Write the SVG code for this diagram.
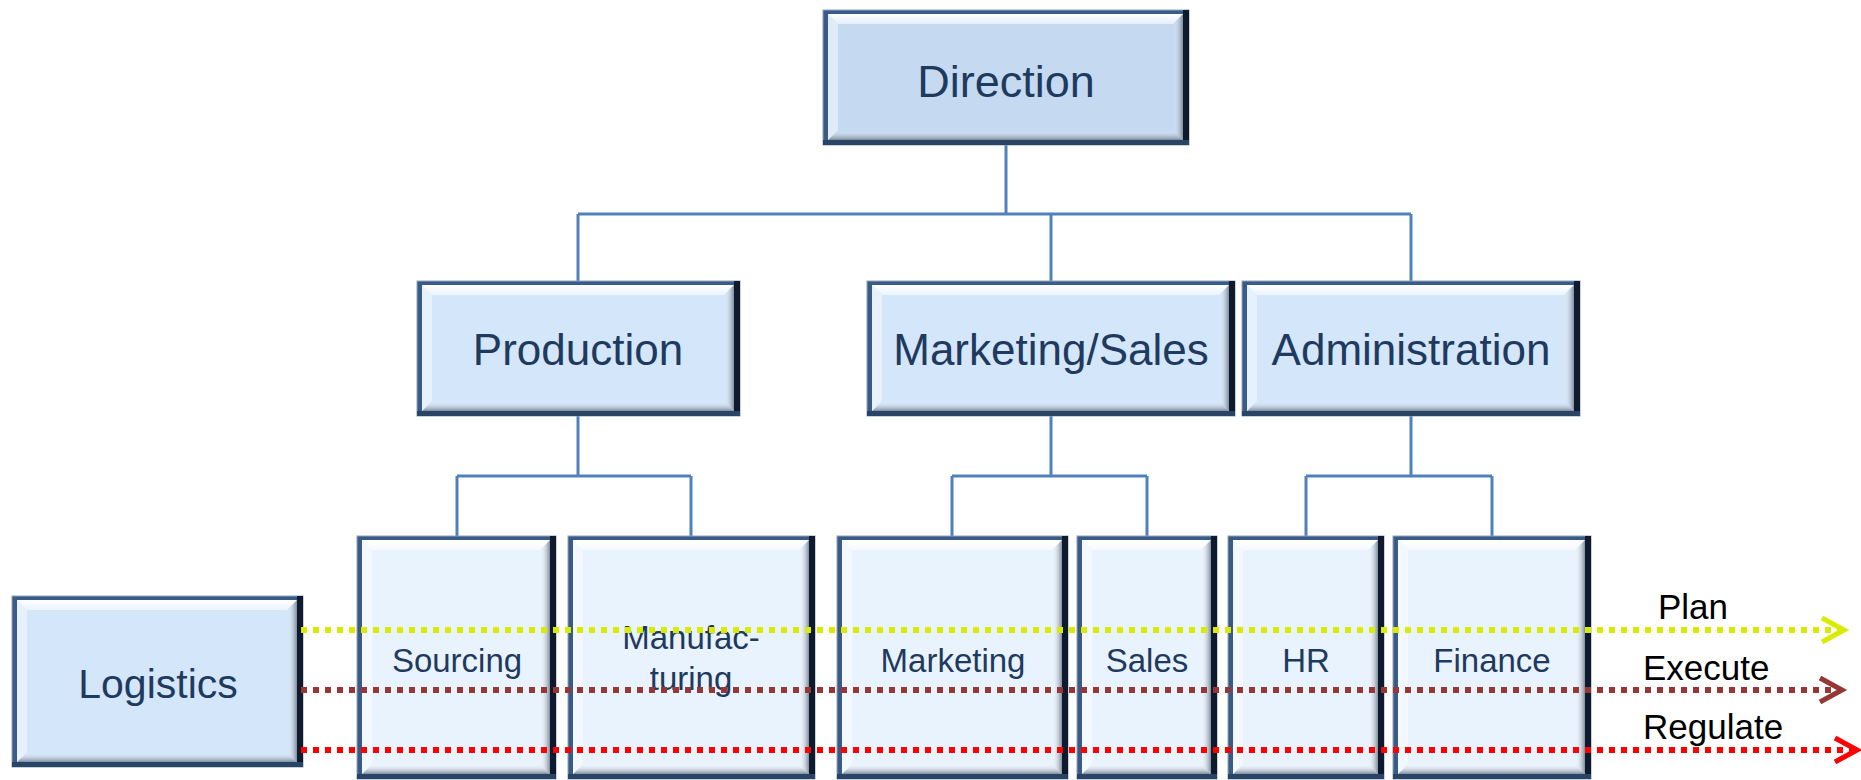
<svg xmlns="http://www.w3.org/2000/svg" width="1861" height="780" viewBox="0 0 1861 780">
<style>
.bd{fill:#3A5B85;stroke:#8FA3BC;stroke-width:1}
.rs{fill:#0F1B2C}
.bs{fill:#2A4465}
.f1{fill:#C5DAF1}
.f2{fill:#D4E6FA}
.f3{fill:#E9F3FD}
.bt{fill:url(#gTop)}
.br{fill:url(#gRight)}
.bb{fill:url(#gBot)}
.bl{fill:#FFFFFF;fill-opacity:0.45}
.t{font-family:"Liberation Sans",Arial,sans-serif;fill:#1F3A5F;text-anchor:middle}
.t1{font-size:45px}
.t2{font-size:44px}
.t3{font-size:33px}
.tl{font-family:"Liberation Sans",Arial,sans-serif;fill:#000000;font-size:35px}
.c{fill:none;stroke:#4F81BD;stroke-width:3}
.fl{fill:none;stroke-width:6;stroke-dasharray:6 6}
</style>
<defs>
<linearGradient id="gTop" x1="0" y1="0" x2="0" y2="1"><stop offset="0" stop-color="#FFFFFF" stop-opacity="1"/><stop offset="1" stop-color="#FFFFFF" stop-opacity="0.55"/></linearGradient>
<linearGradient id="gRight" x1="0" y1="0" x2="1" y2="0"><stop offset="0" stop-color="#FFFFFF" stop-opacity="0"/><stop offset="1" stop-color="#6E7B8E" stop-opacity="0.85"/></linearGradient>
<linearGradient id="gBot" x1="0" y1="0" x2="0" y2="1"><stop offset="0" stop-color="#FFFFFF" stop-opacity="0"/><stop offset="1" stop-color="#6E7B8E" stop-opacity="0.85"/></linearGradient>
<marker id="aPlan" markerUnits="userSpaceOnUse" viewBox="-26 -16 30 32" markerWidth="30" markerHeight="32" refX="0" refY="0" orient="auto" overflow="visible"><path d="M-22,-12 L0,0 L-22,12" fill="none" stroke="#D9EC00" stroke-width="5"/></marker>
<marker id="aExec" markerUnits="userSpaceOnUse" viewBox="-26 -16 30 32" markerWidth="30" markerHeight="32" refX="0" refY="0" orient="auto" overflow="visible"><path d="M-22,-12 L0,0 L-22,12" fill="none" stroke="#953735" stroke-width="5"/></marker>
<marker id="aReg" markerUnits="userSpaceOnUse" viewBox="-26 -16 30 32" markerWidth="30" markerHeight="32" refX="0" refY="0" orient="auto" overflow="visible"><path d="M-22,-12 L0,0 L-22,12" fill="none" stroke="#FF0000" stroke-width="5"/></marker>
</defs>
<rect x="0" y="0" width="1861" height="780" fill="#FFFFFF"/>

<g id="connectors">
<path class="c" d="M1006,145 V214 M578,214 H1411 M578,214 V281 M1051,214 V281 M1411,214 V281"/>
<path class="c" d="M578,416 V476 M457,476 H691 M457,476 V536 M691,476 V536"/>
<path class="c" d="M1051,416 V476 M952,476 H1147 M952,476 V536 M1147,476 V536"/>
<path class="c" d="M1411,416 V476 M1306,476 H1492 M1306,476 V536 M1492,476 V536"/>
</g>

<g id="direction">
<rect class="bd" x="823" y="10" width="366" height="135"/>
<rect class="rs" x="1183" y="10" width="6" height="135"/>
<rect class="bs" x="823" y="140" width="366" height="5"/>
<rect class="f1" x="828" y="14" width="355" height="126"/>
<polygon class="bt" points="828,14 1183,14 1173,24 838,24"/>
<polygon class="br" points="1173,24 1183,14 1183,140 1173,130"/>
<polygon class="bb" points="838,130 1173,130 1183,140 828,140"/>
<polygon class="bl" points="828,14 838,24 838,130 828,140"/>
<text class="t t1" x="1006" y="97">Direction</text>
</g>

<g id="production">
<rect class="bd" x="417" y="281" width="323" height="135"/>
<rect class="rs" x="734" y="281" width="6" height="135"/>
<rect class="bs" x="417" y="411" width="323" height="5"/>
<rect class="f2" x="422" y="285" width="312" height="126"/>
<polygon class="bt" points="422,285 734,285 724,295 432,295"/>
<polygon class="br" points="724,295 734,285 734,411 724,401"/>
<polygon class="bb" points="432,401 724,401 734,411 422,411"/>
<polygon class="bl" points="422,285 432,295 432,401 422,411"/>
<text class="t t2" x="578" y="365">Production</text>
</g>

<g id="marketing-sales">
<rect class="bd" x="867" y="281" width="368" height="135"/>
<rect class="rs" x="1229" y="281" width="6" height="135"/>
<rect class="bs" x="867" y="411" width="368" height="5"/>
<rect class="f2" x="872" y="285" width="357" height="126"/>
<polygon class="bt" points="872,285 1229,285 1219,295 882,295"/>
<polygon class="br" points="1219,295 1229,285 1229,411 1219,401"/>
<polygon class="bb" points="882,401 1219,401 1229,411 872,411"/>
<polygon class="bl" points="872,285 882,295 882,401 872,411"/>
<text class="t t2" x="1051" y="365">Marketing/Sales</text>
</g>

<g id="administration">
<rect class="bd" x="1242" y="281" width="338" height="135"/>
<rect class="rs" x="1574" y="281" width="6" height="135"/>
<rect class="bs" x="1242" y="411" width="338" height="5"/>
<rect class="f2" x="1247" y="285" width="327" height="126"/>
<polygon class="bt" points="1247,285 1574,285 1564,295 1257,295"/>
<polygon class="br" points="1564,295 1574,285 1574,411 1564,401"/>
<polygon class="bb" points="1257,401 1564,401 1574,411 1247,411"/>
<polygon class="bl" points="1247,285 1257,295 1257,401 1247,411"/>
<text class="t t2" x="1411" y="365">Administration</text>
</g>

<g id="sourcing">
<rect class="bd" x="357" y="536" width="199" height="243"/>
<rect class="rs" x="550" y="536" width="6" height="243"/>
<rect class="bs" x="357" y="774" width="199" height="5"/>
<rect class="f3" x="362" y="540" width="188" height="234"/>
<polygon class="bt" points="362,540 550,540 540,550 372,550"/>
<polygon class="br" points="540,550 550,540 550,774 540,764"/>
<polygon class="bb" points="372,764 540,764 550,774 362,774"/>
<polygon class="bl" points="362,540 372,550 372,764 362,774"/>
<text class="t t3" x="457" y="672">Sourcing</text>
</g>

<g id="manufacturing">
<rect class="bd" x="568" y="536" width="247" height="243"/>
<rect class="rs" x="809" y="536" width="6" height="243"/>
<rect class="bs" x="568" y="774" width="247" height="5"/>
<rect class="f3" x="573" y="540" width="236" height="234"/>
<polygon class="bt" points="573,540 809,540 799,550 583,550"/>
<polygon class="br" points="799,550 809,540 809,774 799,764"/>
<polygon class="bb" points="583,764 799,764 809,774 573,774"/>
<polygon class="bl" points="573,540 583,550 583,764 573,774"/>
<text class="t t3" x="691" y="649">Manufac-</text>
<text class="t t3" x="691" y="690">turing</text>
</g>

<g id="marketing">
<rect class="bd" x="837" y="536" width="231" height="243"/>
<rect class="rs" x="1062" y="536" width="6" height="243"/>
<rect class="bs" x="837" y="774" width="231" height="5"/>
<rect class="f3" x="842" y="540" width="220" height="234"/>
<polygon class="bt" points="842,540 1062,540 1052,550 852,550"/>
<polygon class="br" points="1052,550 1062,540 1062,774 1052,764"/>
<polygon class="bb" points="852,764 1052,764 1062,774 842,774"/>
<polygon class="bl" points="842,540 852,550 852,764 842,774"/>
<text class="t t3" x="953" y="672">Marketing</text>
</g>

<g id="sales">
<rect class="bd" x="1077" y="536" width="140" height="243"/>
<rect class="rs" x="1211" y="536" width="6" height="243"/>
<rect class="bs" x="1077" y="774" width="140" height="5"/>
<rect class="f3" x="1082" y="540" width="129" height="234"/>
<polygon class="bt" points="1082,540 1211,540 1201,550 1092,550"/>
<polygon class="br" points="1201,550 1211,540 1211,774 1201,764"/>
<polygon class="bb" points="1092,764 1201,764 1211,774 1082,774"/>
<polygon class="bl" points="1082,540 1092,550 1092,764 1082,774"/>
<text class="t t3" x="1147" y="672">Sales</text>
</g>

<g id="hr">
<rect class="bd" x="1228" y="536" width="156" height="243"/>
<rect class="rs" x="1378" y="536" width="6" height="243"/>
<rect class="bs" x="1228" y="774" width="156" height="5"/>
<rect class="f3" x="1233" y="540" width="145" height="234"/>
<polygon class="bt" points="1233,540 1378,540 1368,550 1243,550"/>
<polygon class="br" points="1368,550 1378,540 1378,774 1368,764"/>
<polygon class="bb" points="1243,764 1368,764 1378,774 1233,774"/>
<polygon class="bl" points="1233,540 1243,550 1243,764 1233,774"/>
<text class="t t3" x="1306" y="672">HR</text>
</g>

<g id="finance">
<rect class="bd" x="1393" y="536" width="198" height="243"/>
<rect class="rs" x="1585" y="536" width="6" height="243"/>
<rect class="bs" x="1393" y="774" width="198" height="5"/>
<rect class="f3" x="1398" y="540" width="187" height="234"/>
<polygon class="bt" points="1398,540 1585,540 1575,550 1408,550"/>
<polygon class="br" points="1575,550 1585,540 1585,774 1575,764"/>
<polygon class="bb" points="1408,764 1575,764 1585,774 1398,774"/>
<polygon class="bl" points="1398,540 1408,550 1408,764 1398,774"/>
<text class="t t3" x="1492" y="672">Finance</text>
</g>

<g id="logistics">
<rect class="bd" x="12" y="596" width="291" height="171"/>
<rect class="rs" x="297" y="596" width="6" height="171"/>
<rect class="bs" x="12" y="762" width="291" height="5"/>
<rect class="f2" x="17" y="600" width="280" height="162"/>
<polygon class="bt" points="17,600 297,600 287,610 27,610"/>
<polygon class="br" points="287,610 297,600 297,762 287,752"/>
<polygon class="bb" points="27,752 287,752 297,762 17,762"/>
<polygon class="bl" points="17,600 27,610 27,752 17,762"/>
<text class="t" style="font-size:41px" x="158" y="698">Logistics</text>
</g>

<g id="flows">
<line class="fl" x1="301" y1="630" x2="1844" y2="630" stroke="#D9EC00" marker-end="url(#aPlan)"/>
<line class="fl" x1="301" y1="690" x2="1842" y2="690" stroke="#953735" marker-end="url(#aExec)"/>
<line class="fl" x1="301" y1="750" x2="1857" y2="750" stroke="#FF0000" marker-end="url(#aReg)"/>
<text class="tl" x="1658" y="619">Plan</text>
<text class="tl" x="1643" y="680">Execute</text>
<text class="tl" x="1643" y="739">Regulate</text>
</g>
</svg>
